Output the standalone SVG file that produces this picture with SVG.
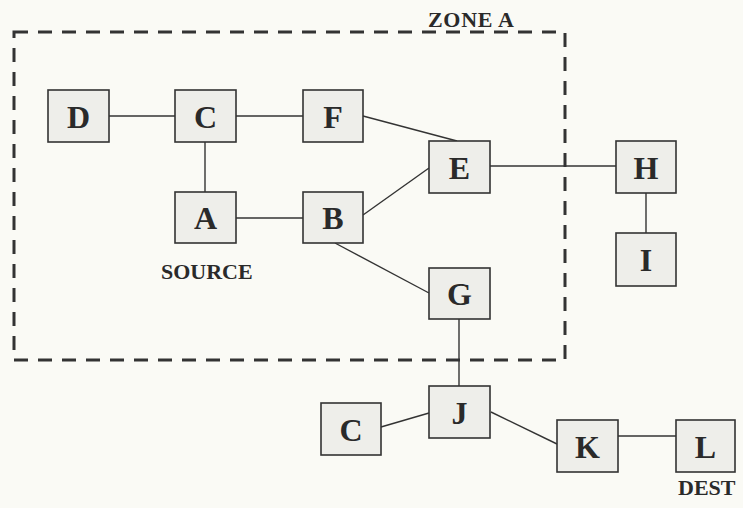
<svg xmlns="http://www.w3.org/2000/svg" width="743" height="508" viewBox="0 0 743 508">
<style>
.bg{fill:#fafaf5}
.box{fill:#eeeeea;stroke:#333;stroke-width:1.6}
.lbl{font-family:"Liberation Serif","Times New Roman",serif;font-weight:bold;font-size:32px;fill:#2a2a2a;text-anchor:middle}
.txt{font-family:"Liberation Serif","Times New Roman",serif;font-weight:bold;font-size:22px;fill:#2a2a2a}
.edge{stroke:#333;stroke-width:1.4;fill:none}
.zone{stroke:#333;stroke-width:3;fill:none;stroke-dasharray:14 10}
</style>
<rect class="bg" x="0" y="0" width="743" height="508"/>
<g id="zoneA">
<rect class="zone" x="14" y="32" width="551" height="328"/>
<text class="txt" x="428" y="27" textLength="86">ZONE A</text>
</g>
<g id="connectors">
<line class="edge" x1="109" y1="116" x2="175" y2="116"/>
<line class="edge" x1="236" y1="116" x2="303" y2="116"/>
<line class="edge" x1="205" y1="142" x2="205" y2="192"/>
<line class="edge" x1="236" y1="218" x2="303" y2="218"/>
<line class="edge" x1="363" y1="116" x2="457" y2="141"/>
<line class="edge" x1="363" y1="215" x2="429" y2="168"/>
<line class="edge" x1="490" y1="166" x2="616" y2="166"/>
<line class="edge" x1="646" y1="193" x2="646" y2="233"/>
<line class="edge" x1="335" y1="243" x2="429" y2="293"/>
<line class="edge" x1="459" y1="319" x2="459" y2="386"/>
<line class="edge" x1="381" y1="427" x2="429" y2="413"/>
<line class="edge" x1="491" y1="412" x2="557" y2="444"/>
<line class="edge" x1="618" y1="436" x2="676" y2="436"/>
</g>
<g id="D"><rect class="box" x="48" y="90" width="61" height="52"/><text class="lbl" x="78.5" y="128">D</text></g>
<g id="C"><rect class="box" x="175" y="90" width="61" height="52"/><text class="lbl" x="205.5" y="128">C</text></g>
<g id="F"><rect class="box" x="303" y="90" width="60" height="52"/><text class="lbl" x="333" y="128">F</text></g>
<g id="A"><rect class="box" x="175" y="192" width="61" height="51"/><text class="lbl" x="205.5" y="229">A</text></g>
<g id="B"><rect class="box" x="303" y="192" width="60" height="51"/><text class="lbl" x="333" y="229">B</text></g>
<g id="E"><rect class="box" x="429" y="141" width="61" height="52"/><text class="lbl" x="459.5" y="179">E</text></g>
<g id="H"><rect class="box" x="616" y="141" width="60" height="52"/><text class="lbl" x="646" y="179">H</text></g>
<g id="I"><rect class="box" x="616" y="233" width="60" height="53"/><text class="lbl" x="646" y="271">I</text></g>
<g id="G"><rect class="box" x="429" y="268" width="61" height="51"/><text class="lbl" x="459.5" y="305">G</text></g>
<g id="J"><rect class="box" x="429" y="386" width="61" height="52"/><text class="lbl" x="459.5" y="424">J</text></g>
<g id="C2"><rect class="box" x="321" y="403" width="60" height="52"/><text class="lbl" x="351" y="441">C</text></g>
<g id="K"><rect class="box" x="557" y="420" width="61" height="52"/><text class="lbl" x="587.5" y="458">K</text></g>
<g id="L"><rect class="box" x="676" y="420" width="59" height="52"/><text class="lbl" x="705.5" y="458">L</text></g>
<g id="labels">
<text class="txt" x="161" y="279">SOURCE</text>
<text class="txt" x="678" y="495">DEST</text>
</g>
</svg>
